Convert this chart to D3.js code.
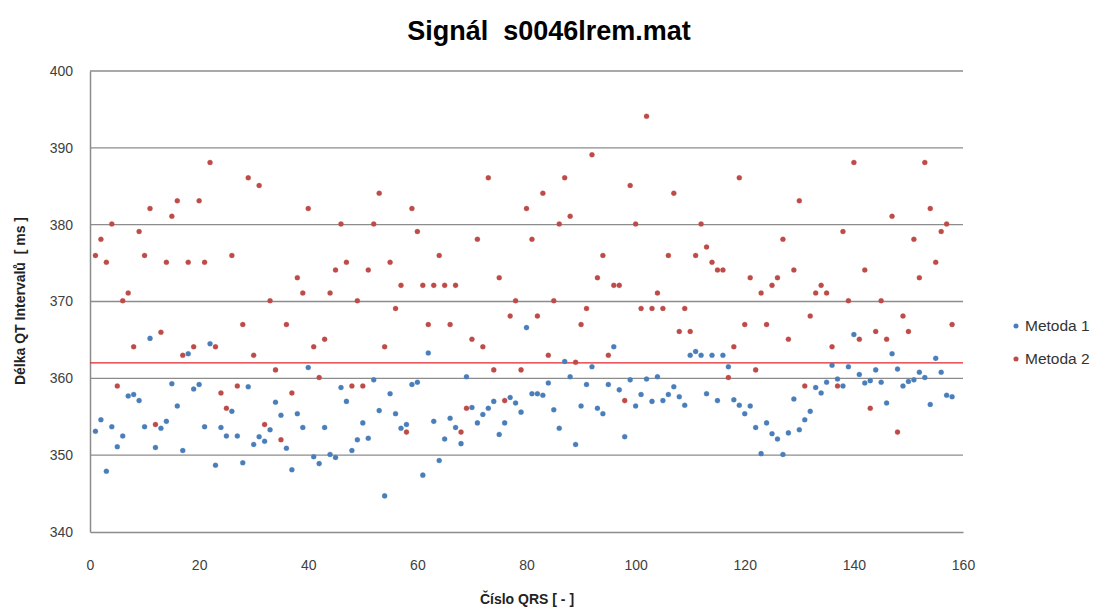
<!DOCTYPE html>
<html><head><meta charset="utf-8">
<script src="https://cdnjs.cloudflare.com/ajax/libs/d3/7.8.5/d3.min.js"></script>
<style>body{margin:0;background:#fff}svg{display:block}</style>
</head><body><svg id="c" width="1100" height="608"></svg>
<script>
const title = "Signál  s0046lrem.mat";
const xTitle = "Číslo QRS [ - ]";
const yTitle = "Délka QT Intervalů  [ ms ]";
const seriesNames = ["Metoda 1", "Metoda 2"];
const xTicks = [0, 20, 40, 60, 80, 100, 120, 140, 160];
const yTicks = [340, 350, 360, 370, 380, 390, 400];
const refLine = 362;
const metoda1 = [353.1,354.6,347.9,353.7,351.1,352.5,357.7,357.9,357.1,353.7,365.2,351.0,353.5,354.4,359.3,356.4,350.6,363.2,358.6,359.2,
353.7,364.5,348.7,353.6,352.5,355.7,352.5,349.0,358.9,351.4,352.4,351.8,353.3,356.9,355.2,350.9,348.1,355.4,353.6,361.4,
349.8,348.9,353.6,350.1,349.7,358.8,357.0,350.6,352.0,354.2,352.2,359.8,355.8,344.7,358.0,355.4,353.5,354.0,359.2,359.5,
347.4,363.3,354.4,349.3,352.1,354.8,353.6,351.5,360.2,356.2,354.2,355.3,356.1,357.0,352.7,354.2,357.5,356.8,355.6,366.6,
358.0,358.0,357.8,359.4,355.9,353.5,362.2,360.2,351.4,356.4,359.2,361.5,356.1,355.4,359.2,364.1,358.5,352.4,359.8,356.4,
357.9,359.9,357.0,360.2,357.1,357.9,358.9,357.6,356.5,363.0,363.5,363.0,358.0,363.0,357.1,363.0,361.5,357.2,356.5,355.4,
356.4,353.6,350.2,354.2,352.8,352.1,350.1,352.9,357.3,353.3,354.6,355.7,358.8,358.1,359.5,361.7,359.9,359.0,361.5,365.7,
360.5,359.4,359.7,361.1,359.5,356.8,363.2,361.2,359.0,359.6,359.8,360.8,360.1,356.6,362.6,360.8,357.8,357.6];
const metoda2 = [376.0,378.1,375.1,380.1,359.0,370.1,371.1,364.1,379.1,376.0,382.1,354.0,366.0,375.1,381.1,383.1,363.0,375.1,364.1,383.1,
375.1,388.1,364.1,358.1,356.1,376.0,359.0,367.0,386.1,363.0,385.1,354.0,370.1,361.1,352.0,367.0,358.1,373.1,371.1,382.1,
364.1,360.1,365.1,371.1,374.1,380.1,375.1,359.0,370.1,359.0,374.1,380.1,384.1,364.1,375.1,369.1,372.1,353.0,382.1,379.1,
372.1,367.0,372.1,376.0,372.1,367.0,372.1,353.0,356.1,365.1,378.1,364.1,386.1,361.1,373.1,357.1,368.1,370.1,361.1,382.1,
378.1,368.1,384.1,363.0,370.1,380.1,386.1,381.1,362.1,367.0,369.1,389.1,373.1,376.0,363.0,372.1,372.1,357.1,385.1,380.1,
369.1,394.1,369.1,371.1,369.1,376.0,384.1,366.1,369.1,366.1,376.0,380.1,377.1,375.1,374.1,374.1,360.1,364.1,386.1,367.0,
373.1,361.1,371.1,367.0,372.1,373.1,378.1,365.1,374.1,383.1,359.0,368.1,371.1,372.1,371.1,364.1,359.0,379.1,370.1,388.1,
365.1,374.1,356.1,366.1,370.1,365.1,381.1,353.0,368.1,366.1,378.1,373.1,388.1,382.1,375.1,379.1,380.1,367.0];
const colors = ["#4a7ebb", "#be4b48"];

const svg = d3.select("#c");
const font = "'Liberation Sans', Arial, sans-serif";
const m = {l: 90, r: 963, t: 71, b: 532};
const x = d3.scaleLinear().domain([0, 160]).range([m.l, m.r]);
const y = d3.scaleLinear().domain([340, 400]).range([m.b, m.t]);

// gridlines
svg.append("g").selectAll("line").data(yTicks.slice(1)).join("line")
  .attr("x1", m.l).attr("x2", m.r).attr("y1", d => y(d)).attr("y2", d => y(d))
  .attr("stroke", "#8c8c8c").attr("stroke-width", 1.3);

// axes
const xa = svg.append("g").attr("transform", `translate(0,${m.b})`)
  .call(d3.axisBottom(x).tickValues(xTicks).tickSize(0).tickPadding(28));
const ya = svg.append("g").attr("transform", `translate(${m.l},0)`)
  .call(d3.axisLeft(y).tickValues(yTicks).tickSize(0).tickPadding(17));
[xa, ya].forEach(a => {
  a.select(".domain").attr("stroke", "#8c8c8c").attr("stroke-width", 1.5);
  a.selectAll("text").attr("font-family", font).attr("font-size", 14).attr("fill", "#404040");
});

// reference line
svg.append("line").attr("x1", m.l).attr("x2", m.r).attr("y1", y(refLine)).attr("y2", y(refLine))
  .attr("stroke", "#e0262b").attr("stroke-width", 1.2);

// markers
const marker = d3.symbol().type(d3.symbolCircle).size(20);
[metoda1, metoda2].forEach((s, k) => {
  svg.append("g").selectAll("path").data(s).join("path")
    .attr("d", marker)
    .attr("transform", (d, i) => `translate(${x(i + 1)},${y(d)})`)
    .attr("fill", colors[k]).attr("stroke", colors[k]).attr("stroke-width", 0.8).attr("stroke-opacity", 0.35);
});

// title
svg.append("text").attr("x", 549).attr("y", 40).attr("text-anchor", "middle")
  .attr("font-family", font).attr("font-weight", "bold").attr("font-size", 27)
  .style("white-space", "pre").text(title);
svg.append("text").attr("x", 527).attr("y", 604).attr("text-anchor", "middle")
  .attr("font-family", font).attr("font-weight", "bold").attr("font-size", 14).attr("fill", "#222").text(xTitle);
svg.append("text").attr("transform", "translate(25,301) rotate(-90)").attr("text-anchor", "middle")
  .attr("font-family", font).attr("font-weight", "bold").attr("font-size", 14).attr("fill", "#222")
  .style("white-space", "pre").text(yTitle);

// legend
const lg = svg.append("g");
seriesNames.forEach((n, k) => {
  const yy = 326 + k * 33;
  lg.append("path").attr("d", marker).attr("transform", `translate(1016,${yy})`).attr("fill", colors[k]);
  lg.append("text").attr("x", 1025).attr("y", yy + 5).attr("font-family", font).attr("font-size", 15.5)
    .attr("fill", "#333").text(n);
});
</script></body></html>
